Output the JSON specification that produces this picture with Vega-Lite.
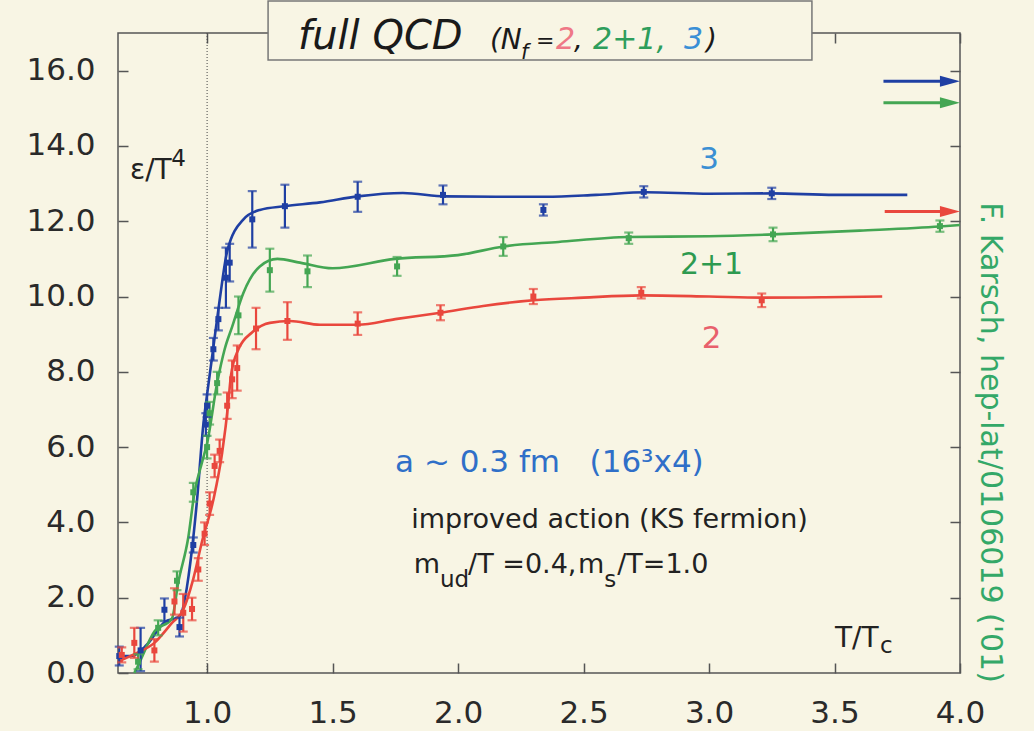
{
  "$schema": "https://vega.github.io/schema/vega-lite/v6.json",
  "width": 842,
  "height": 640,
  "autosize": {"type": "none"},
  "padding": {"left": 118, "top": 33, "right": 74, "bottom": 58},
  "background": "#f8f5e4",
  "config": {"view": {"stroke": "#555555", "strokeWidth": 1.5, "fill": "#f8f5e4"}, "font": "DejaVu Sans"},
  "datasets": {
    "pts": [
      {"s": "3", "x": 0.65, "y": 0.45, "lo": 0.2, "hi": 0.7},
      {"s": "3", "x": 0.735, "y": 0.6, "lo": 0.05, "hi": 1.2},
      {"s": "3", "x": 0.83, "y": 1.68, "lo": 1.38, "hi": 1.98},
      {"s": "3", "x": 0.89, "y": 1.22, "lo": 0.97, "hi": 1.47},
      {"s": "3", "x": 0.945, "y": 3.4, "lo": 3.2, "hi": 3.6},
      {"s": "3", "x": 0.995, "y": 6.6, "lo": 6.3, "hi": 6.9},
      {"s": "3", "x": 1.0, "y": 7.1, "lo": 6.8, "hi": 7.4},
      {"s": "3", "x": 1.025, "y": 8.6, "lo": 8.3, "hi": 8.9},
      {"s": "3", "x": 1.045, "y": 9.4, "lo": 9.1, "hi": 9.7},
      {"s": "3", "x": 1.075, "y": 10.5, "lo": 9.7, "hi": 11.3},
      {"s": "3", "x": 1.09, "y": 10.9, "lo": 10.4, "hi": 11.4},
      {"s": "3", "x": 1.18, "y": 12.05, "lo": 11.3, "hi": 12.8},
      {"s": "3", "x": 1.31, "y": 12.4, "lo": 11.83, "hi": 12.97},
      {"s": "3", "x": 1.6, "y": 12.65, "lo": 12.25, "hi": 13.05},
      {"s": "3", "x": 1.94, "y": 12.7, "lo": 12.45, "hi": 12.95},
      {"s": "3", "x": 2.34, "y": 12.3, "lo": 12.15, "hi": 12.45},
      {"s": "3", "x": 2.74, "y": 12.78, "lo": 12.63, "hi": 12.93},
      {"s": "3", "x": 3.25, "y": 12.74, "lo": 12.59, "hi": 12.89},
      {"s": "2+1", "x": 0.725, "y": 0.3, "lo": 0.1, "hi": 0.5},
      {"s": "2+1", "x": 0.805, "y": 1.2, "lo": 1.0, "hi": 1.4},
      {"s": "2+1", "x": 0.88, "y": 2.45, "lo": 2.2, "hi": 2.7},
      {"s": "2+1", "x": 0.945, "y": 4.8, "lo": 4.55, "hi": 5.05},
      {"s": "2+1", "x": 1.0, "y": 6.0, "lo": 5.7, "hi": 6.3},
      {"s": "2+1", "x": 1.01, "y": 6.9, "lo": 6.6, "hi": 7.2},
      {"s": "2+1", "x": 1.04, "y": 7.7, "lo": 7.4, "hi": 8.0},
      {"s": "2+1", "x": 1.125, "y": 9.5, "lo": 9.0, "hi": 10.0},
      {"s": "2+1", "x": 1.25, "y": 10.7, "lo": 10.13, "hi": 11.27},
      {"s": "2+1", "x": 1.4, "y": 10.67, "lo": 10.25, "hi": 11.09},
      {"s": "2+1", "x": 1.757, "y": 10.8, "lo": 10.55, "hi": 11.05},
      {"s": "2+1", "x": 2.18, "y": 11.33, "lo": 11.08, "hi": 11.58},
      {"s": "2+1", "x": 2.68, "y": 11.55, "lo": 11.4, "hi": 11.7},
      {"s": "2+1", "x": 3.255, "y": 11.65, "lo": 11.47, "hi": 11.83},
      {"s": "2+1", "x": 3.92, "y": 11.87, "lo": 11.72, "hi": 12.02},
      {"s": "2", "x": 0.66, "y": 0.48, "lo": 0.28, "hi": 0.68},
      {"s": "2", "x": 0.71, "y": 0.8, "lo": 0.4, "hi": 1.2},
      {"s": "2", "x": 0.79, "y": 0.6, "lo": 0.3, "hi": 0.9},
      {"s": "2", "x": 0.87, "y": 1.9, "lo": 1.55, "hi": 2.25},
      {"s": "2", "x": 0.905, "y": 1.6, "lo": 1.1, "hi": 2.1},
      {"s": "2", "x": 0.94, "y": 1.7, "lo": 1.4, "hi": 2.0},
      {"s": "2", "x": 0.965, "y": 2.75, "lo": 2.45, "hi": 3.05},
      {"s": "2", "x": 0.99, "y": 3.7, "lo": 3.4, "hi": 4.0},
      {"s": "2", "x": 1.01, "y": 4.5, "lo": 4.2, "hi": 4.8},
      {"s": "2", "x": 1.03, "y": 5.5, "lo": 5.2, "hi": 5.8},
      {"s": "2", "x": 1.05, "y": 5.9, "lo": 5.6, "hi": 6.2},
      {"s": "2", "x": 1.08, "y": 7.1, "lo": 6.75, "hi": 7.45},
      {"s": "2", "x": 1.1, "y": 7.8, "lo": 7.3, "hi": 8.3},
      {"s": "2", "x": 1.12, "y": 8.1, "lo": 7.5, "hi": 8.7},
      {"s": "2", "x": 1.195, "y": 9.15, "lo": 8.6, "hi": 9.7},
      {"s": "2", "x": 1.32, "y": 9.35, "lo": 8.85, "hi": 9.85},
      {"s": "2", "x": 1.6, "y": 9.28, "lo": 8.98, "hi": 9.58},
      {"s": "2", "x": 1.93, "y": 9.57, "lo": 9.37, "hi": 9.77},
      {"s": "2", "x": 2.3, "y": 10.0, "lo": 9.8, "hi": 10.2},
      {"s": "2", "x": 2.73, "y": 10.1, "lo": 9.95, "hi": 10.25},
      {"s": "2", "x": 3.21, "y": 9.9, "lo": 9.72, "hi": 10.08}
    ],
    "curve": [
      {"s": "3", "x": 0.645, "y": 0.45}, {"s": "3", "x": 0.7, "y": 0.45}, {"s": "3", "x": 0.76, "y": 0.75},
      {"s": "3", "x": 0.83, "y": 1.35}, {"s": "3", "x": 0.89, "y": 1.5}, {"s": "3", "x": 0.94, "y": 3.3},
      {"s": "3", "x": 0.96, "y": 4.6}, {"s": "3", "x": 0.985, "y": 6.6}, {"s": "3", "x": 1.0, "y": 7.4},
      {"s": "3", "x": 1.02, "y": 8.4}, {"s": "3", "x": 1.05, "y": 9.9}, {"s": "3", "x": 1.08, "y": 11.2},
      {"s": "3", "x": 1.145, "y": 12.05}, {"s": "3", "x": 1.21, "y": 12.3}, {"s": "3", "x": 1.31, "y": 12.4},
      {"s": "3", "x": 1.45, "y": 12.5}, {"s": "3", "x": 1.6, "y": 12.66}, {"s": "3", "x": 1.78, "y": 12.75},
      {"s": "3", "x": 1.95, "y": 12.66}, {"s": "3", "x": 2.15, "y": 12.65}, {"s": "3", "x": 2.35, "y": 12.65},
      {"s": "3", "x": 2.55, "y": 12.7}, {"s": "3", "x": 2.75, "y": 12.77}, {"s": "3", "x": 3.0, "y": 12.73},
      {"s": "3", "x": 3.25, "y": 12.74}, {"s": "3", "x": 3.5, "y": 12.7}, {"s": "3", "x": 3.79, "y": 12.7},
      {"s": "2+1", "x": 0.71, "y": 0.0}, {"s": "2+1", "x": 0.725, "y": 0.2}, {"s": "2+1", "x": 0.79, "y": 1.1},
      {"s": "2+1", "x": 0.86, "y": 1.45}, {"s": "2+1", "x": 0.885, "y": 2.4}, {"s": "2+1", "x": 0.925, "y": 3.6},
      {"s": "2+1", "x": 0.95, "y": 4.8}, {"s": "2+1", "x": 0.98, "y": 5.6}, {"s": "2+1", "x": 1.0, "y": 6.1},
      {"s": "2+1", "x": 1.04, "y": 7.7}, {"s": "2+1", "x": 1.07, "y": 8.6}, {"s": "2+1", "x": 1.1, "y": 9.2},
      {"s": "2+1", "x": 1.145, "y": 10.1}, {"s": "2+1", "x": 1.21, "y": 10.8}, {"s": "2+1", "x": 1.28, "y": 11.0},
      {"s": "2+1", "x": 1.37, "y": 10.9}, {"s": "2+1", "x": 1.5, "y": 10.75}, {"s": "2+1", "x": 1.75, "y": 11.0},
      {"s": "2+1", "x": 2.0, "y": 11.1}, {"s": "2+1", "x": 2.18, "y": 11.33}, {"s": "2+1", "x": 2.4, "y": 11.45},
      {"s": "2+1", "x": 2.68, "y": 11.58}, {"s": "2+1", "x": 3.0, "y": 11.6}, {"s": "2+1", "x": 3.255, "y": 11.65},
      {"s": "2+1", "x": 3.6, "y": 11.75}, {"s": "2+1", "x": 3.92, "y": 11.86}, {"s": "2+1", "x": 4.0, "y": 11.9},
      {"s": "2", "x": 0.645, "y": 0.3}, {"s": "2", "x": 0.71, "y": 0.5}, {"s": "2", "x": 0.79, "y": 0.8},
      {"s": "2", "x": 0.86, "y": 1.33}, {"s": "2", "x": 0.905, "y": 1.68}, {"s": "2", "x": 0.945, "y": 2.5},
      {"s": "2", "x": 0.98, "y": 3.5}, {"s": "2", "x": 1.025, "y": 4.6}, {"s": "2", "x": 1.06, "y": 5.85},
      {"s": "2", "x": 1.085, "y": 7.2}, {"s": "2", "x": 1.095, "y": 7.9}, {"s": "2", "x": 1.125, "y": 8.6},
      {"s": "2", "x": 1.18, "y": 9.05}, {"s": "2", "x": 1.25, "y": 9.3}, {"s": "2", "x": 1.33, "y": 9.35},
      {"s": "2", "x": 1.45, "y": 9.25}, {"s": "2", "x": 1.6, "y": 9.25}, {"s": "2", "x": 1.75, "y": 9.4},
      {"s": "2", "x": 1.93, "y": 9.57}, {"s": "2", "x": 2.1, "y": 9.75}, {"s": "2", "x": 2.3, "y": 9.9},
      {"s": "2", "x": 2.5, "y": 9.97}, {"s": "2", "x": 2.73, "y": 10.03}, {"s": "2", "x": 3.0, "y": 10.0},
      {"s": "2", "x": 3.21, "y": 9.97}, {"s": "2", "x": 3.45, "y": 9.98}, {"s": "2", "x": 3.69, "y": 10.0}
    ],
    "arrows": [
      {"s": "3", "x": 3.695, "x2": 3.95, "xh": 3.96, "y": 15.72},
      {"s": "2+1", "x": 3.695, "x2": 3.95, "xh": 3.96, "y": 15.15},
      {"s": "2", "x": 3.7, "x2": 3.95, "xh": 3.96, "y": 12.26}
    ]
  },
  "layer": [
    {
      "data": {"values": [{"x": 1.0}]},
      "mark": {"type": "rule", "color": "#444444", "strokeWidth": 1, "strokeDash": [1, 2]},
      "encoding": {
        "x": {"field": "x", "type": "quantitative", "scale": {"domain": [0.645, 4.0], "nice": false, "zero": false}, "axis": null}
      }
    },
    {
      "data": {"name": "curve"},
      "mark": {"type": "line", "interpolate": "monotone", "strokeWidth": 2.6},
      "encoding": {
        "x": {"field": "x", "type": "quantitative", "scale": {"domain": [0.645, 4.0], "nice": false, "zero": false}, "axis": null},
        "y": {"field": "y", "type": "quantitative", "scale": {"domain": [0, 17], "nice": false, "zero": false}, "axis": null},
        "color": {"field": "s", "type": "nominal", "scale": {"domain": ["2", "2+1", "3"], "range": ["#e9473d", "#44a653", "#1f3fa3"]}, "legend": null}
      }
    },
    {
      "data": {"name": "pts"},
      "mark": {"type": "rule", "strokeWidth": 2.2},
      "encoding": {
        "x": {"field": "x", "type": "quantitative", "scale": {"domain": [0.645, 4.0], "nice": false, "zero": false},
          "axis": {"orient": "bottom", "values": [1.0, 1.5, 2.0, 2.5, 3.0, 3.5, 4.0], "format": ".1f", "title": null, "domain": false, "grid": false,
            "tickSize": -10, "tickColor": "#555555", "tickWidth": 1.5, "labelPadding": 35, "labelFont": "DejaVu Sans", "labelFontSize": 31,
            "labelColor": "#2a2a2a", "labelFlush": false, "labelOverlap": false, "labelBound": false}},
        "y": {"field": "lo", "type": "quantitative", "scale": {"domain": [0, 17], "nice": false, "zero": false},
          "axis": {"orient": "left", "values": [0, 2, 4, 6, 8, 10, 12, 14, 16], "format": ".1f", "title": null, "domain": false, "grid": false,
            "tickSize": -10, "tickColor": "#555555", "tickWidth": 1.5, "labelPadding": 33, "labelFont": "DejaVu Sans", "labelFontSize": 31,
            "labelColor": "#2a2a2a", "labelFlush": false, "labelOverlap": false, "labelBound": false}},
        "y2": {"field": "hi"},
        "color": {"field": "s", "type": "nominal", "scale": {"domain": ["2", "2+1", "3"], "range": ["#e9473d", "#44a653", "#1f3fa3"]}, "legend": null}
      }
    },
    {
      "data": {"name": "pts"},
      "mark": {"type": "tick", "orient": "horizontal", "size": 9, "thickness": 2.2},
      "encoding": {
        "x": {"field": "x", "type": "quantitative", "scale": {"domain": [0.645, 4.0], "nice": false, "zero": false}, "axis": null},
        "y": {"field": "lo", "type": "quantitative", "scale": {"domain": [0, 17], "nice": false, "zero": false}, "axis": null},
        "color": {"field": "s", "type": "nominal", "scale": {"domain": ["2", "2+1", "3"], "range": ["#e9473d", "#44a653", "#1f3fa3"]}, "legend": null}
      }
    },
    {
      "data": {"name": "pts"},
      "mark": {"type": "tick", "orient": "horizontal", "size": 9, "thickness": 2.2},
      "encoding": {
        "x": {"field": "x", "type": "quantitative", "scale": {"domain": [0.645, 4.0], "nice": false, "zero": false}, "axis": null},
        "y": {"field": "hi", "type": "quantitative", "scale": {"domain": [0, 17], "nice": false, "zero": false}, "axis": null},
        "color": {"field": "s", "type": "nominal", "scale": {"domain": ["2", "2+1", "3"], "range": ["#e9473d", "#44a653", "#1f3fa3"]}, "legend": null}
      }
    },
    {
      "data": {"name": "pts"},
      "mark": {"type": "square", "size": 36, "filled": true, "opacity": 1},
      "encoding": {
        "x": {"field": "x", "type": "quantitative", "scale": {"domain": [0.645, 4.0], "nice": false, "zero": false}, "axis": null},
        "y": {"field": "y", "type": "quantitative", "scale": {"domain": [0, 17], "nice": false, "zero": false}, "axis": null},
        "color": {"field": "s", "type": "nominal", "scale": {"domain": ["2", "2+1", "3"], "range": ["#e9473d", "#44a653", "#1f3fa3"]}, "legend": null}
      }
    },
    {
      "data": {"name": "arrows"},
      "mark": {"type": "rule", "strokeWidth": 3},
      "encoding": {
        "x": {"field": "x", "type": "quantitative", "scale": {"domain": [0.645, 4.0], "nice": false, "zero": false}, "axis": null},
        "x2": {"field": "x2"},
        "y": {"field": "y", "type": "quantitative", "scale": {"domain": [0, 17], "nice": false, "zero": false},
          "axis": {"orient": "right", "values": [2, 4, 6, 8, 10, 12, 14, 16], "labels": false, "title": null, "domain": false, "grid": false,
            "tickSize": -10, "tickColor": "#555555", "tickWidth": 1.5}},
        "color": {"field": "s", "type": "nominal", "scale": {"domain": ["2", "2+1", "3"], "range": ["#e9473d", "#44a653", "#1f3fa3"]}, "legend": null}
      }
    },
    {
      "data": {"name": "arrows"},
      "mark": {"type": "point", "shape": "M-1,-0.55L1,0L-1,0.55Z", "size": 400, "filled": true, "opacity": 1},
      "encoding": {
        "x": {"field": "xh", "type": "quantitative", "scale": {"domain": [0.645, 4.0], "nice": false, "zero": false}, "axis": null},
        "y": {"field": "y", "type": "quantitative", "scale": {"domain": [0, 17], "nice": false, "zero": false}, "axis": null},
        "color": {"field": "s", "type": "nominal", "scale": {"domain": ["2", "2+1", "3"], "range": ["#e9473d", "#44a653", "#1f3fa3"]}, "legend": null}
      }
    },
    {
      "data": {"values": [{"x": 1.243, "x2": 3.41, "y": 16.28, "y2": 17.85}]},
      "mark": {"type": "rect", "fill": "#f8f5e4", "stroke": "#777777", "strokeWidth": 1.5},
      "encoding": {
        "x": {"field": "x", "type": "quantitative", "scale": {"domain": [0.645, 4.0], "nice": false, "zero": false},
          "axis": {"orient": "top", "values": [1.0, 1.5, 2.0, 2.5, 3.0, 3.5, 4.0], "labels": false, "title": null, "domain": false, "grid": false,
            "tickSize": -10, "tickColor": "#555555", "tickWidth": 1.5}},
        "x2": {"field": "x2"},
        "y": {"field": "y", "type": "quantitative", "scale": {"domain": [0, 17], "nice": false, "zero": false}, "axis": null},
        "y2": {"field": "y2"}
      }
    },
    {
      "data": {"values": [{"t": "full QCD", "x": 1.3625, "y": 16.57}]},
      "mark": {"type": "text", "align": "left", "baseline": "alphabetic", "font": "DejaVu Sans", "fontSize": 40, "fontStyle": "italic", "color": "#1a1a1a"},
      "encoding": {
        "x": {"field": "x", "type": "quantitative", "scale": {"domain": [0.645, 4.0], "nice": false, "zero": false}, "axis": null},
        "y": {"field": "y", "type": "quantitative", "scale": {"domain": [0, 17], "nice": false, "zero": false}, "axis": null},
        "text": {"field": "t"}
      }
    },
    {
      "data": {"values": [{"t": "(N", "x": 2.127, "y": 16.57}, {"t": ",", "x": 2.462, "y": 16.57}, {"t": ")", "x": 2.988, "y": 16.57}]},
      "mark": {"type": "text", "align": "left", "baseline": "alphabetic", "font": "DejaVu Sans", "fontSize": 28, "fontStyle": "italic", "color": "#1a1a1a"},
      "encoding": {
        "x": {"field": "x", "type": "quantitative", "scale": {"domain": [0.645, 4.0], "nice": false, "zero": false}, "axis": null},
        "y": {"field": "y", "type": "quantitative", "scale": {"domain": [0, 17], "nice": false, "zero": false}, "axis": null},
        "text": {"field": "t"}
      }
    },
    {
      "data": {"values": [{"t": "=", "x": 2.311, "y": 16.6}]},
      "mark": {"type": "text", "align": "left", "baseline": "alphabetic", "font": "DejaVu Sans", "fontSize": 22, "color": "#1a1a1a"},
      "encoding": {
        "x": {"field": "x", "type": "quantitative", "scale": {"domain": [0.645, 4.0], "nice": false, "zero": false}, "axis": null},
        "y": {"field": "y", "type": "quantitative", "scale": {"domain": [0, 17], "nice": false, "zero": false}, "axis": null},
        "text": {"field": "t"}
      }
    },
    {
      "data": {"values": [{"t": "f", "x": 2.251, "y": 16.3}]},
      "mark": {"type": "text", "align": "left", "baseline": "alphabetic", "font": "DejaVu Sans", "fontSize": 21, "fontStyle": "italic", "color": "#1a1a1a"},
      "encoding": {
        "x": {"field": "x", "type": "quantitative", "scale": {"domain": [0.645, 4.0], "nice": false, "zero": false}, "axis": null},
        "y": {"field": "y", "type": "quantitative", "scale": {"domain": [0, 17], "nice": false, "zero": false}, "axis": null},
        "text": {"field": "t"}
      }
    },
    {
      "data": {"values": [{"t": "2", "x": 2.39, "y": 16.57}]},
      "mark": {"type": "text", "align": "left", "baseline": "alphabetic", "font": "DejaVu Sans", "fontSize": 30, "fontStyle": "italic", "color": "#ef7886"},
      "encoding": {
        "x": {"field": "x", "type": "quantitative", "scale": {"domain": [0.645, 4.0], "nice": false, "zero": false}, "axis": null},
        "y": {"field": "y", "type": "quantitative", "scale": {"domain": [0, 17], "nice": false, "zero": false}, "axis": null},
        "text": {"field": "t"}
      }
    },
    {
      "data": {"values": [{"t": "2+1,", "x": 2.538, "y": 16.57}]},
      "mark": {"type": "text", "align": "left", "baseline": "alphabetic", "font": "DejaVu Sans", "fontSize": 30, "fontStyle": "italic", "color": "#2e9e5c"},
      "encoding": {
        "x": {"field": "x", "type": "quantitative", "scale": {"domain": [0.645, 4.0], "nice": false, "zero": false}, "axis": null},
        "y": {"field": "y", "type": "quantitative", "scale": {"domain": [0, 17], "nice": false, "zero": false}, "axis": null},
        "text": {"field": "t"}
      }
    },
    {
      "data": {"values": [{"t": "3", "x": 2.9, "y": 16.57}]},
      "mark": {"type": "text", "align": "left", "baseline": "alphabetic", "font": "DejaVu Sans", "fontSize": 30, "fontStyle": "italic", "color": "#3a8fd6"},
      "encoding": {
        "x": {"field": "x", "type": "quantitative", "scale": {"domain": [0.645, 4.0], "nice": false, "zero": false}, "axis": null},
        "y": {"field": "y", "type": "quantitative", "scale": {"domain": [0, 17], "nice": false, "zero": false}, "axis": null},
        "text": {"field": "t"}
      }
    },
    {
      "data": {"values": [{"t": "ε/T", "x": 0.693, "y": 13.11}, {"t": "T/T", "x": 3.502, "y": 0.69}]},
      "mark": {"type": "text", "align": "left", "baseline": "alphabetic", "font": "DejaVu Sans", "fontSize": 28, "color": "#222222"},
      "encoding": {
        "x": {"field": "x", "type": "quantitative", "scale": {"domain": [0.645, 4.0], "nice": false, "zero": false}, "axis": null},
        "y": {"field": "y", "type": "quantitative", "scale": {"domain": [0, 17], "nice": false, "zero": false}, "axis": null},
        "text": {"field": "t"}
      }
    },
    {
      "data": {"values": [{"t": "m", "x": 1.823, "y": 2.66}, {"t": "/T =0.4,", "x": 2.04, "y": 2.66}, {"t": "m", "x": 2.478, "y": 2.66}, {"t": "/T=1.0", "x": 2.634, "y": 2.66}, {"t": "improved action (KS fermion)", "x": 1.813, "y": 3.86}]},
      "mark": {"type": "text", "align": "left", "baseline": "alphabetic", "font": "DejaVu Sans", "fontSize": 27, "color": "#222222"},
      "encoding": {
        "x": {"field": "x", "type": "quantitative", "scale": {"domain": [0.645, 4.0], "nice": false, "zero": false}, "axis": null},
        "y": {"field": "y", "type": "quantitative", "scale": {"domain": [0, 17], "nice": false, "zero": false}, "axis": null},
        "text": {"field": "t"}
      }
    },
    {
      "data": {"values": [{"t": "4", "x": 0.857, "y": 13.46}, {"t": "c", "x": 3.681, "y": 0.53}, {"t": "ud", "x": 1.928, "y": 2.29}, {"t": "s", "x": 2.582, "y": 2.29}]},
      "mark": {"type": "text", "align": "left", "baseline": "alphabetic", "font": "DejaVu Sans", "fontSize": 23, "color": "#222222"},
      "encoding": {
        "x": {"field": "x", "type": "quantitative", "scale": {"domain": [0.645, 4.0], "nice": false, "zero": false}, "axis": null},
        "y": {"field": "y", "type": "quantitative", "scale": {"domain": [0, 17], "nice": false, "zero": false}, "axis": null},
        "text": {"field": "t"}
      }
    },
    {
      "data": {"values": [{"t": "a\u00a0~\u00a00.3\u00a0fm\u00a0\u00a0\u00a0(16³x4)", "x": 1.749, "y": 5.35}]},
      "mark": {"type": "text", "align": "left", "baseline": "alphabetic", "font": "DejaVu Sans", "fontSize": 31, "color": "#2f6fc8"},
      "encoding": {
        "x": {"field": "x", "type": "quantitative", "scale": {"domain": [0.645, 4.0], "nice": false, "zero": false}, "axis": null},
        "y": {"field": "y", "type": "quantitative", "scale": {"domain": [0, 17], "nice": false, "zero": false}, "axis": null},
        "text": {"field": "t"}
      }
    },
    {
      "data": {"values": [{"t": "3", "x": 3.0, "y": 13.38}]},
      "mark": {"type": "text", "align": "center", "baseline": "alphabetic", "font": "DejaVu Sans", "fontSize": 31, "color": "#3b8fd3"},
      "encoding": {
        "x": {"field": "x", "type": "quantitative", "scale": {"domain": [0.645, 4.0], "nice": false, "zero": false}, "axis": null},
        "y": {"field": "y", "type": "quantitative", "scale": {"domain": [0, 17], "nice": false, "zero": false}, "axis": null},
        "text": {"field": "t"}
      }
    },
    {
      "data": {"values": [{"t": "2+1", "x": 3.01, "y": 10.59}]},
      "mark": {"type": "text", "align": "center", "baseline": "alphabetic", "font": "DejaVu Sans", "fontSize": 30, "color": "#2e9a50"},
      "encoding": {
        "x": {"field": "x", "type": "quantitative", "scale": {"domain": [0.645, 4.0], "nice": false, "zero": false}, "axis": null},
        "y": {"field": "y", "type": "quantitative", "scale": {"domain": [0, 17], "nice": false, "zero": false}, "axis": null},
        "text": {"field": "t"}
      }
    },
    {
      "data": {"values": [{"t": "2", "x": 3.01, "y": 8.64}]},
      "mark": {"type": "text", "align": "center", "baseline": "alphabetic", "font": "DejaVu Sans", "fontSize": 31, "color": "#e8606c"},
      "encoding": {
        "x": {"field": "x", "type": "quantitative", "scale": {"domain": [0.645, 4.0], "nice": false, "zero": false}, "axis": null},
        "y": {"field": "y", "type": "quantitative", "scale": {"domain": [0, 17], "nice": false, "zero": false}, "axis": null},
        "text": {"field": "t"}
      }
    },
    {
      "data": {"values": [{"t": "F. Karsch, hep-lat/0106019 ('01)", "x": 4.082, "y": 6.12}]},
      "mark": {"type": "text", "align": "center", "baseline": "alphabetic", "angle": 90, "font": "DejaVu Sans", "fontSize": 30, "color": "#34a868"},
      "encoding": {
        "x": {"field": "x", "type": "quantitative", "scale": {"domain": [0.645, 4.0], "nice": false, "zero": false}, "axis": null},
        "y": {"field": "y", "type": "quantitative", "scale": {"domain": [0, 17], "nice": false, "zero": false}, "axis": null},
        "text": {"field": "t"}
      }
    }
  ],
  "resolve": {"axis": {"x": "independent", "y": "independent"}}
}
